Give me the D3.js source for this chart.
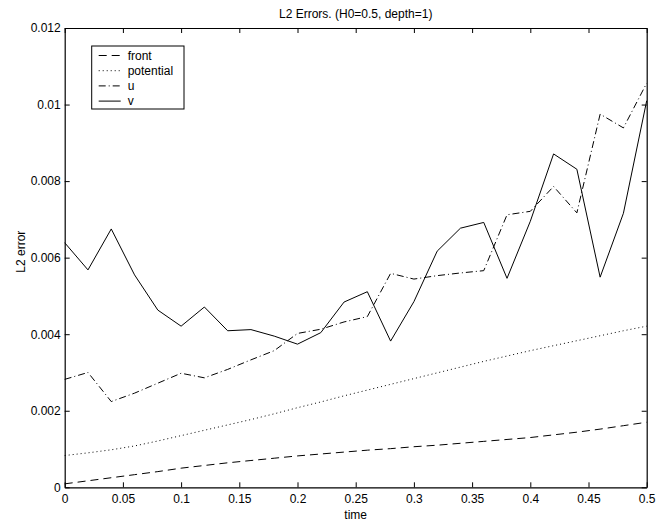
<!DOCTYPE html>
<html>
<head>
<meta charset="utf-8">
<script src="https://cdn.jsdelivr.net/npm/d3@7"></script>
<style>
  html, body { margin: 0; padding: 0; background: #fff; }
  svg { display: block; font-family: "Liberation Sans", Arial, Helvetica, sans-serif; }
</style>
</head>
<body>
<svg id="chart" width="657" height="525"></svg>
<script>
// ---- data ----
const time = [0, 0.02, 0.04, 0.06, 0.08, 0.10, 0.12, 0.14, 0.16, 0.18, 0.20, 0.22, 0.24,
              0.26, 0.28, 0.30, 0.32, 0.34, 0.36, 0.38, 0.40, 0.42, 0.44, 0.46, 0.48, 0.50];
const front = [0.00009, 0.00017, 0.00025, 0.00033, 0.00041, 0.00050, 0.00057, 0.00064, 0.00070,
               0.00076, 0.00082, 0.00087, 0.00092, 0.00097, 0.00101, 0.00106, 0.00110, 0.00115,
               0.00120, 0.00125, 0.00130, 0.00137, 0.00144, 0.00152, 0.00161, 0.00170];
const potential = [0.00083, 0.00090, 0.00098, 0.00108, 0.00121, 0.00135, 0.00149, 0.00163, 0.00177,
                   0.00192, 0.00208, 0.00223, 0.00239, 0.00254, 0.00269, 0.00284, 0.00299, 0.00314,
                   0.00329, 0.00343, 0.00357, 0.00370, 0.00383, 0.00396, 0.00409, 0.00421];
const u = [0.00282, 0.00300, 0.00224, 0.00246, 0.00272, 0.00298, 0.00286, 0.00308, 0.00333,
           0.00357, 0.00402, 0.00413, 0.00432, 0.00446, 0.00559, 0.00544, 0.00553, 0.00560,
           0.00566, 0.00712, 0.00721, 0.00786, 0.00717, 0.00975, 0.00939, 0.01056];
const v = [0.00639, 0.00568, 0.00675, 0.00555, 0.00463, 0.00421, 0.00471, 0.00409, 0.00412,
           0.00395, 0.00374, 0.00404, 0.00484, 0.00511, 0.00382, 0.00485, 0.00617, 0.00677,
           0.00692, 0.00546, 0.00695, 0.00871, 0.00831, 0.00549, 0.00716, 0.01010];
const seriesNames = ["front", "potential", "u", "v"];
const xTicks = [0, 0.05, 0.1, 0.15, 0.2, 0.25, 0.3, 0.35, 0.4, 0.45, 0.5];
const yTicks = [0, 0.002, 0.004, 0.006, 0.008, 0.010, 0.012];
const titleText = "L2 Errors. (H0=0.5, depth=1)";
const xLabel = "time";
const yLabel = "L2 error";

// ---- layout ----
const L = 64.7, R = 646.7, T = 28, B = 487.3;
const svg = d3.select("#chart");
const x = d3.scaleLinear().domain([0, 0.5]).range([L, R]);
const y = d3.scaleLinear().domain([0, 0.012]).range([B, T]);
const fmt = d3.format("~g");
const FS = 12;

const styles = {
  front: "8,5",
  potential: "1,3",
  u: "7,3,1,3",
  v: null
};
const dataMap = { front, potential, u, v };

// axes (ticks inside, MATLAB style)
function styleAxis(g) {
  g.selectAll("path.domain").attr("stroke", "#000").attr("stroke-width", 1.2);
  g.selectAll(".tick line").attr("stroke", "#000").attr("stroke-width", 1);
  g.selectAll("text").attr("font-size", FS).attr("fill", "#000")
    .attr("font-family", "'Liberation Sans', Arial, Helvetica, sans-serif");
}
svg.append("g").attr("transform", `translate(0,${B})`)
  .call(d3.axisBottom(x).tickValues(xTicks).tickFormat(fmt).tickSizeInner(-5).tickSizeOuter(0).tickPadding(7))
  .call(styleAxis);
svg.append("g").attr("transform", `translate(${L},0)`)
  .call(d3.axisLeft(y).tickValues(yTicks).tickFormat(fmt).tickSizeInner(-5).tickSizeOuter(0).tickPadding(4))
  .call(styleAxis);
svg.append("g").attr("transform", `translate(0,${T})`)
  .call(d3.axisTop(x).tickValues(xTicks).tickFormat("").tickSizeInner(-5).tickSizeOuter(0))
  .call(styleAxis);
svg.append("g").attr("transform", `translate(${R},0)`)
  .call(d3.axisRight(y).tickValues(yTicks).tickFormat("").tickSizeInner(-5).tickSizeOuter(0))
  .call(styleAxis);

// lines
const line = d3.line().x((d, i) => x(time[i])).y(d => y(d));
const plot = svg.append("g");
seriesNames.forEach(name => {
  plot.append("path")
    .datum(dataMap[name])
    .attr("d", line)
    .attr("fill", "none")
    .attr("stroke", "#000")
    .attr("stroke-width", 1)
    .attr("stroke-dasharray", styles[name]);
});

// title and labels
svg.append("text").attr("x", (L + R) / 2).attr("y", 18).attr("text-anchor", "middle")
  .attr("font-size", FS).text(titleText);
svg.append("text").attr("x", (L + R) / 2).attr("y", 519).attr("text-anchor", "middle")
  .attr("font-size", FS).text(xLabel);
svg.append("text").attr("transform", `translate(25,${(T + B) / 2 - 6}) rotate(-90)`)
  .attr("text-anchor", "middle").attr("font-size", FS).text(yLabel);

// legend
const lg = svg.append("g");
const lx = 91.7, ly = 46, lw = 92.3, lh = 63;
lg.append("rect").attr("x", lx).attr("y", ly).attr("width", lw).attr("height", lh)
  .attr("fill", "#fff").attr("stroke", "#000").attr("stroke-width", 1);
seriesNames.forEach((name, i) => {
  const yy = ly + 9.5 + i * 15.2;
  lg.append("line").attr("x1", lx + 7).attr("x2", lx + 29).attr("y1", yy).attr("y2", yy)
    .attr("stroke", "#000").attr("stroke-width", 1).attr("stroke-dasharray", styles[name]);
  lg.append("text").attr("x", lx + 36).attr("y", yy + 4.3).attr("font-size", FS).text(name);
});
</script>
</body>
</html>
